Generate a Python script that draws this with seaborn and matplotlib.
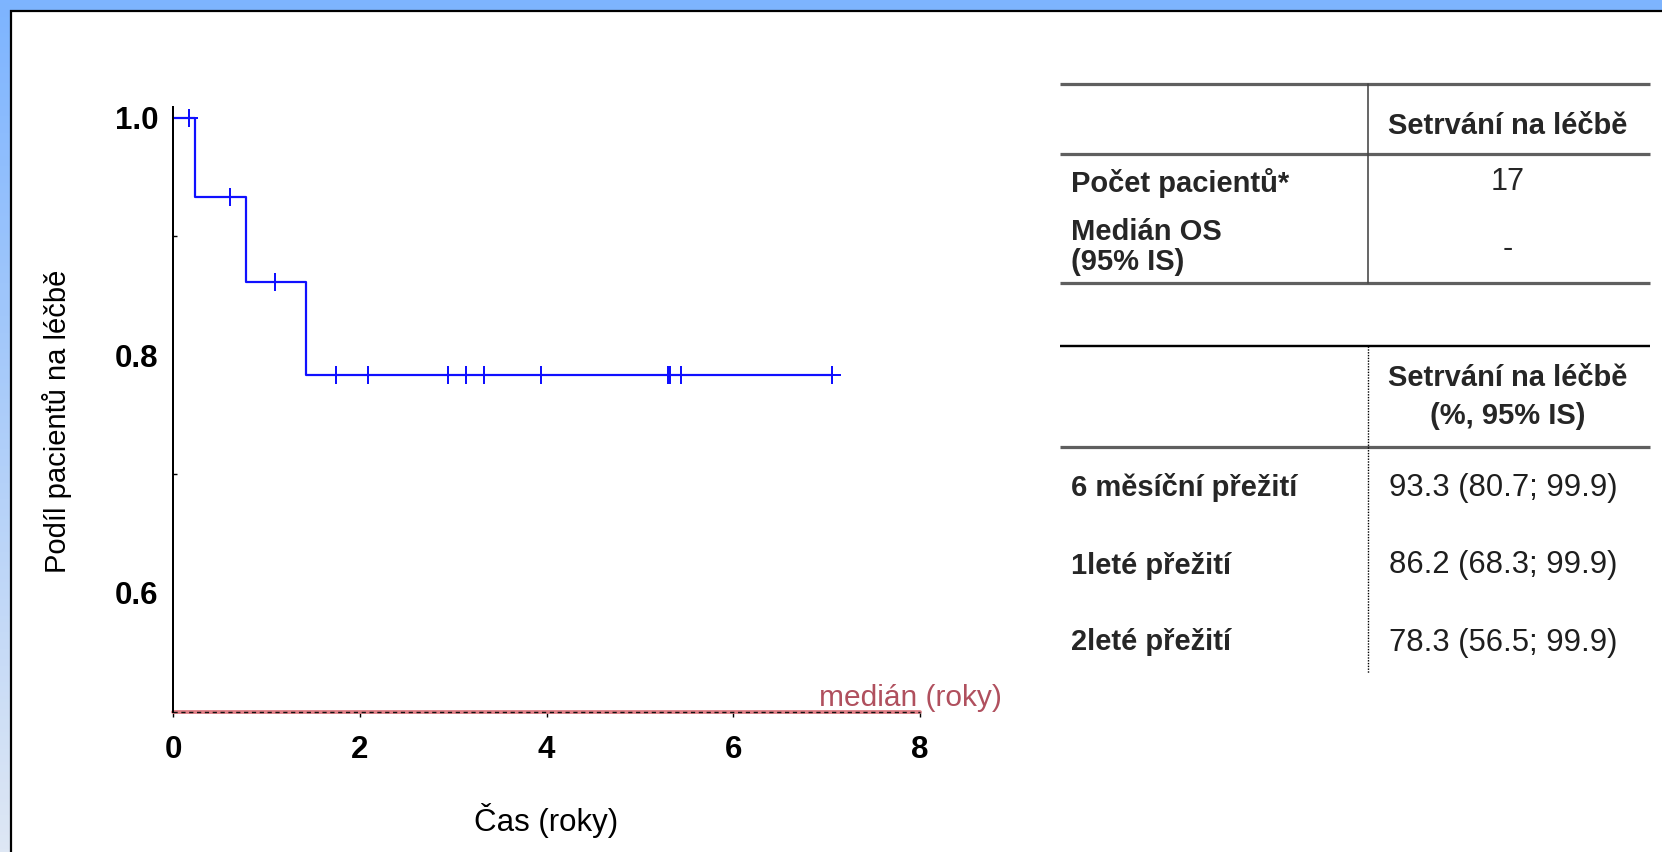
import numpy as np
import matplotlib
matplotlib.use("Agg")
import matplotlib.pyplot as plt
import seaborn as sns
from matplotlib.patches import Rectangle

# ---- survival data (years) ----
event_times = [0.24, 0.78, 1.42]
surv_after_event = [0.933, 0.862, 0.783]
censor_times = [0.17, 0.17, 0.61, 1.09, 1.75, 2.09, 2.94, 3.14, 3.33, 3.94,
                5.30, 5.32, 5.44, 7.06]
follow_up_end = 7.06

x_ticks = [0, 2, 4, 6, 8]
y_ticks = [0.6, 0.8, 1.0]
y_minor = [0.7, 0.9]

# ---- summary tables ----
group_name = "Setrvání na léčbě"
tab1_rows = ["Počet pacientů*", "Medián OS", "(95% IS)"]
tab1_vals = ["17", "-"]
tab2_header = ["Setrvání na léčbě", "(%, 95% IS)"]
tab2_rows = ["6 měsíční přežití", "1leté přežití", "2leté přežití"]
tab2_est = [93.3, 86.2, 78.3]
tab2_lo = [80.7, 68.3, 56.5]
tab2_hi = [99.9, 99.9, 99.9]

sns.set_theme(style="white")
plt.rcParams["font.family"] = ["Liberation Sans", "DejaVu Sans"]

W, H = 1662, 852
fig = plt.figure(figsize=(W / 100, H / 100), dpi=100)

# background layer in pixel coordinates
bg = fig.add_axes([0, 0, 1, 1], zorder=0)
bg.set_xlim(0, W)
bg.set_ylim(H, 0)
bg.axis("off")
top_c = np.array([125, 180, 255]) / 255
bot_c = np.array([222, 231, 244]) / 255
t = np.linspace(0, 1, 256)[:, None, None]
grad = top_c[None, None, :] * (1 - t) + bot_c[None, None, :] * t
bg.imshow(grad, extent=[0, W, H, 0], aspect="auto", zorder=0)
bg.add_patch(Rectangle((11, 10.5), W + 50, H + 50, facecolor="white",
                       edgecolor="black", linewidth=1.6, zorder=1))

fs = 21
fs_tick = 22.5
px = 0.72  # points per pixel at 100 dpi

# ---- Kaplan-Meier curve ----
ax = fig.add_axes([173 / W, (H - 711.7) / H, (920 - 173) / W, (711.7 - 107) / H],
                  zorder=2)
ax.set_facecolor("none")

step_x = [0.0] + event_times + [follow_up_end]
step_y = [1.0] + surv_after_event + [surv_after_event[-1]]
blue = "#1010ff"
sns.lineplot(x=step_x, y=step_y, drawstyle="steps-post", estimator=None,
             sort=False, color=blue, linewidth=2.2 * px, ax=ax)

def surv_at(tt):
    idx = np.searchsorted(event_times, tt, side="right")
    return 1.0 if idx == 0 else surv_after_event[idx - 1]

censor_s = [surv_at(c) for c in censor_times]
sns.scatterplot(x=censor_times, y=censor_s, marker="+", s=(18 * px) ** 2,
                color=blue, linewidth=2.0 * px, ax=ax, zorder=3)

# median reference line along the time axis
ax.axhline(0.5, color="#e07f86", linewidth=3.8 * px, zorder=2, clip_on=False)
ax.axhline(0.5, color="#111111", linewidth=1.4 * px, linestyle=(0, (3.0, 2.6)),
           zorder=2.5, clip_on=False)
ax.text(6.92, 0.5118, "medián (roky)", color="#b0505e", fontsize=fs + 0.5,
        ha="left", va="center")

ax.set_xlim(0, 8)
ax.set_ylim(0.5, 1.009)
ax.set_xticks(x_ticks)
ax.set_xticklabels([str(v) for v in x_ticks], fontweight="bold", fontsize=fs_tick)
ax.set_yticks(y_ticks)
ax.set_yticklabels([f"{v:.1f}" for v in y_ticks], fontweight="bold", fontsize=fs_tick)
ax.set_yticks(y_minor, minor=True)
ax.tick_params(axis="y", which="major", direction="inout", length=9 * px,
               width=1.6 * px, color="black", pad=10 * px, labelcolor="black")
ax.tick_params(axis="y", which="minor", direction="in", length=4 * px,
               width=1.4 * px, color="black", left=True)
ax.tick_params(axis="x", which="major", direction="out", length=5 * px,
               width=1.4 * px, color="black", pad=18 * px, bottom=True,
               labelcolor="black")
for s in ["top", "right", "bottom"]:
    ax.spines[s].set_visible(False)
ax.spines["left"].set_color("black")
ax.spines["left"].set_linewidth(2.0 * px)

ax.set_xlabel("Čas (roky)", fontsize=22.5, va="center", color="black")
ax.xaxis.set_label_coords(0.5, (711.7 - 820) / (711.7 - 107))
ax.set_ylabel("Podíl pacientů na léčbě", fontsize=fs, va="center", color="black")
ax.yaxis.set_label_coords((57 - 173) / (920 - 173), (711.7 - 421) / (711.7 - 107))

# ---- tables (pixel coordinates) ----
x0, x1, xdiv, xc, xl = 1060, 1650, 1368, 1508, 1071
dy = 2.5
gray = "#5f5f5f"
# table 1
for y in (83.7, 153.7, 283):
    bg.plot([x0, x1], [y, y], color=gray, linewidth=3.2 * px, zorder=3,
            solid_capstyle="butt")
bg.plot([xdiv, xdiv], [83.7, 283], color="#444444", linewidth=1.6 * px, zorder=3)
bg.text(xc, 124 + dy, group_name, fontsize=fs, fontweight="bold", ha="center",
        va="center", zorder=4)
bg.text(xl, 180 + dy, tab1_rows[0], fontsize=fs, fontweight="bold", ha="left",
        va="center", zorder=4)
bg.text(xl, 229 + dy, tab1_rows[1], fontsize=fs, fontweight="bold", ha="left",
        va="center", zorder=4)
bg.text(xl, 260 + dy, tab1_rows[2], fontsize=fs, fontweight="bold", ha="left",
        va="center", zorder=4)
bg.text(xc, 180 + dy, tab1_vals[0], fontsize=fs + 1, ha="center", va="center",
        zorder=4)
bg.text(xc, 246 + dy, tab1_vals[1], fontsize=fs + 1, ha="center", va="center",
        zorder=4)

# table 2
bg.plot([x0, x1], [345.6, 345.6], color="black", linewidth=2.4 * px, zorder=3,
        solid_capstyle="butt")
bg.plot([x0, x1], [447.3, 447.3], color=gray, linewidth=3.2 * px, zorder=3,
        solid_capstyle="butt")
bg.plot([xdiv, xdiv], [345.6, 673], color="black", linewidth=1.4 * px,
        linestyle=(0, (1, 1)), zorder=3)
bg.text(xc, 376 + dy, tab2_header[0], fontsize=fs, fontweight="bold", ha="center",
        va="center", zorder=4)
bg.text(xc, 413.5 + dy, tab2_header[1], fontsize=fs, fontweight="bold",
        ha="center", va="center", zorder=4)
for y, lab, e, lo, hi in zip((485.5, 563, 640), tab2_rows, tab2_est, tab2_lo, tab2_hi):
    bg.text(xl, y + dy, lab, fontsize=fs, fontweight="bold", ha="left",
            va="center", zorder=4)
    bg.text(1503, y + dy, f"{e:.1f} ({lo:.1f}; {hi:.1f})", fontsize=22.3,
            ha="center", va="center", color="#1e1e1e", zorder=4)

fig.savefig("out.png", dpi=100)
